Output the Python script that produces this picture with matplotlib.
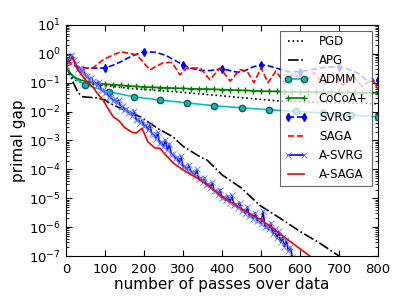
import numpy as np
import matplotlib
matplotlib.use("Agg")
import matplotlib.pyplot as plt
from matplotlib.ticker import LogLocator, NullFormatter

# primal gap values, stored as log10 exponents
pgd_x = [0, 10, 25, 50, 100, 164, 267, 395, 541, 650, 800]
pgd_y = [-0.40, -0.72, -0.92, -1.02, -1.10, -1.20, -1.30, -1.45, -1.63, -1.68, -1.73]

apg_x = [0, 8, 18, 31, 44, 80, 100, 113, 150, 190, 241, 274, 300, 344, 361, 400,
         450, 497, 550, 600, 650, 700, 720]
apg_y = [-0.40, -0.65, -0.97, -1.35, -1.49, -1.53, -1.60, -1.72, -1.95, -2.18, -2.63,
         -2.87, -3.20, -3.57, -3.67, -4.19, -4.65, -5.25, -5.70, -6.15, -6.55, -7.00, -7.15]

admm_x = [0, 10, 25, 50, 110, 175, 240, 310, 380, 450, 520, 590, 660, 730, 800]
admm_y = [-0.40, -0.65, -0.88, -1.08, -1.32, -1.49, -1.60, -1.70, -1.80, -1.87,
          -1.94, -1.99, -2.06, -2.12, -2.18]

cocoa_x = list(range(0, 801, 20))
cocoa_y = [-0.50, -0.80, -0.92, -0.98, -1.02, -1.05, -1.07, -1.09, -1.11, -1.13,
           -1.15, -1.16, -1.17, -1.18, -1.19, -1.20, -1.21, -1.22, -1.22, -1.23,
           -1.24, -1.25, -1.26, -1.27, -1.28, -1.29, -1.30, -1.30, -1.31, -1.31,
           -1.32, -1.32, -1.33, -1.33, -1.33, -1.34, -1.34, -1.34, -1.35, -1.35, -1.35]

svrg_x = [0, 10, 20, 35, 60, 100, 120, 140, 160, 180, 200, 230, 255, 275, 300, 320,
          345, 370, 400, 420, 440, 460, 480, 500, 520, 545, 570, 600, 630, 660, 690,
          700, 720, 750, 775, 800]
svrg_y = [-0.30, -0.30, -0.38, -0.46, -0.50, -0.49, -0.40, -0.28, -0.14, -0.02, 0.07,
          0.05, -0.05, -0.20, -0.38, -0.50, -0.58, -0.58, -0.52, -0.58, -0.64, -0.58,
          -0.45, -0.38, -0.42, -0.52, -0.62, -0.62, -0.55, -0.48, -0.45, -0.46, -0.52,
          -0.68, -0.97, -0.90]

saga_x = [0, 15, 36, 69, 95, 121, 141, 182, 205, 215, 236, 249, 272, 292, 310, 344,
          369, 395, 421, 446, 464, 482, 500, 518, 538, 560, 585, 610, 635, 660, 685,
          710, 735, 760, 785, 800]
saga_y = [-0.30, -0.38, -0.49, -0.49, -0.21, -0.04, 0.07, -0.04, -0.40, -0.56, -0.40,
          -0.31, -0.30, -0.73, -0.50, -0.49, -0.90, -0.49, -0.95, -0.55, -0.60, -1.00,
          -0.49, -1.00, -0.60, -1.00, -0.65, -1.05, -0.65, -1.05, -0.70, -1.10, -0.75,
          -1.15, -0.85, -1.25]

asvrg_x = list(range(0, 581, 5))
asvrg_y = [-0.40, -0.25, -0.08, -0.04, -0.20, -0.36, -0.52, -0.50, -0.64, -0.56,
           -0.76, -0.78, -0.88, -0.84, -0.95, -1.00, -1.12, -0.98, -1.24, -1.26,
           -1.37, -1.33, -1.49, -1.48, -1.62, -1.58, -1.70, -1.60, -1.84, -1.82,
           -1.94, -1.90, -2.04, -2.00, -2.14, -1.98, -2.28, -2.26, -2.39, -2.30,
           -2.49, -2.48, -2.64, -2.45, -2.78, -2.78, -2.94, -2.72, -3.09, -3.05,
           -3.22, -2.98, -3.34, -3.12, -3.48, -3.48, -3.63, -3.58, -3.78, -3.55,
           -3.92, -3.90, -4.01, -3.85, -4.09, -4.08, -4.22, -4.00, -4.33, -4.30,
           -4.43, -4.30, -4.53, -4.50, -4.63, -4.45, -4.75, -4.74, -4.88, -4.70,
           -4.99, -4.96, -5.07, -4.92, -5.15, -4.90, -5.23, -5.20, -5.33, -5.15,
           -5.43, -5.40, -5.53, -5.30, -5.63, -5.58, -5.71, -5.50, -5.78, -5.75,
           -5.88, -5.45, -5.98, -5.95, -6.08, -5.85, -6.23, -6.05, -6.38, -6.15,
           -6.53, -6.35, -6.68, -6.45, -6.83, -6.70, -7.02]

asaga_x = [0, 8, 16, 22, 30, 44, 57, 69, 82, 95, 108, 121, 136, 150, 170, 180, 195,
           210, 228, 241, 254, 275, 300, 336, 374, 395, 446, 490, 500, 505, 520, 560,
           600, 630]
asaga_y = [-0.35, -0.28, -0.12, -0.30, -0.55, -0.80, -1.00, -1.15, -1.40, -1.60,
           -1.90, -2.18, -2.32, -2.55, -2.72, -2.74, -2.58, -3.05, -3.26, -3.27,
           -3.48, -3.78, -4.02, -4.30, -4.64, -4.90, -5.33, -5.68, -5.72, -5.80,
           -5.93, -6.35, -6.75, -7.05]

plt.rcParams['axes.unicode_minus'] = False
plt.rcParams['font.family'] = 'DejaVu Sans'

fig = plt.figure(figsize=(4.07, 3.07), dpi=100)
ax = fig.add_axes([0.162, 0.166, 0.767, 0.753])

lw = 1.2
ax.plot(pgd_x, 10 ** np.array(pgd_y), 'k:', lw=lw, label='PGD')
ax.plot(apg_x, 10 ** np.array(apg_y), 'k-.', lw=lw, label='APG')
ax.plot(admm_x, 10 ** np.array(admm_y), 'c-o', lw=lw, ms=4.5, mfc='#20b2aa',
        mec='#006060', markevery=list(range(3, len(admm_x))), label='ADMM')
ax.plot(cocoa_x, 10 ** np.array(cocoa_y), 'g-+', lw=lw, ms=5, mew=1,
        markevery=list(range(3, len(cocoa_x))), label='CoCoA+')
svrg_marks = [i for i, p in enumerate(svrg_x) if p % 100 == 0 and p > 0]
ax.plot(svrg_x, 10 ** np.array(svrg_y), 'b--d', lw=lw, ms=4,
        markevery=svrg_marks, label='SVRG')
ax.plot(saga_x, 10 ** np.array(saga_y), 'r--', lw=lw, label='SAGA')
ax.plot(asvrg_x, 10 ** np.array(asvrg_y), 'b-x', lw=lw, ms=4, mew=0.6,
        mec='#6080ff', label='A-SVRG')
ax.plot(asaga_x, 10 ** np.array(asaga_y), 'r-', lw=lw, label='A-SAGA')

ax.set_yscale('log')
ax.set_xlim(0, 800)
ax.set_ylim(1e-7, 1e1)
ax.yaxis.set_major_locator(LogLocator(base=10, numticks=20))
ax.yaxis.set_minor_locator(LogLocator(base=10, subs=np.arange(2, 10), numticks=20))
ax.yaxis.set_minor_formatter(NullFormatter())
ax.set_xticks([0, 100, 200, 300, 400, 500, 600, 700, 800])
ax.set_xlabel('number of passes over data', fontsize=11, labelpad=1)
ax.set_ylabel('primal gap', fontsize=11, labelpad=2)
ax.tick_params(which='both', direction='in', top=True, right=True, labelsize=9.5)
ax.tick_params(which='major', length=4)
ax.tick_params(which='minor', length=2)
ax.tick_params(axis='x', pad=5)

leg = ax.legend(loc='upper right', fontsize=8.5, numpoints=2, fancybox=False,
                framealpha=0.75, edgecolor='#333333', handlelength=1.9,
                handletextpad=1.0, labelspacing=0.5, borderaxespad=0.5)
leg.get_frame().set_linewidth(0.8)

plt.savefig('out.png', dpi=100)
